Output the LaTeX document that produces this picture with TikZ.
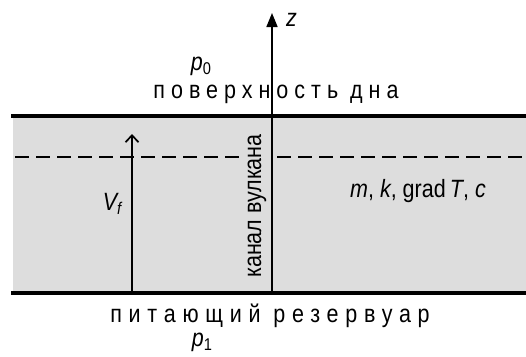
\documentclass[tikz,border=0pt]{standalone}
\usepackage{fontspec}
\setmainfont[FakeStretch=0.86]{Liberation Sans}
\usetikzlibrary{arrows.meta}
\definecolor{band}{RGB}{221,221,221}
\newcommand{\mysub}[1]{\raisebox{-0.3ex}{\fontsize{17}{17}\selectfont #1}}
\tikzset{
  lbl/.style={font=\fontsize{25}{28}\selectfont, inner sep=0pt},
  thickline/.style={line width=3.4pt},
  axisline/.style={line width=1.7pt},
  dashline/.style={line width=1.7pt, dash pattern=on 14pt off 7pt},
}
\begin{document}
\begin{tikzpicture}[x=1pt,y=-1pt]
\useasboundingbox (0,0) rectangle (526,356);
\fill[band] (13,116) rectangle (526,293);
\coordinate (tl) at (11,116);
\coordinate (tr) at (526,116);
\coordinate (bl) at (11,293);
\coordinate (br) at (526,293);
\draw[thickline] (tl) -- (tr);
\draw[thickline] (bl) -- (br);
\coordinate (d1) at (15,157);
\coordinate (d2) at (240,157);
\coordinate (d3) at (277,157);
\coordinate (d4) at (526,157);
\draw[dashline] (d1) -- (d2);
\draw[dashline] (d3) -- (d4);
\coordinate (zb) at (272,293);
\coordinate (zt) at (272,13);
\draw[axisline,-{Triangle[length=14pt,width=11pt]}] (zb) -- (zt);
\node[lbl, anchor=west] (z) at (286,20) {\itshape z};
\coordinate (vb) at (132,293);
\coordinate (vt) at (132,134);
\draw[axisline,-{Straight Barb[length=7pt,width=13pt,line width=1.7pt]}] (vb) -- (vt);
\node[lbl] (vf) at (112,204) {\itshape V\mysub{f}};
\node[lbl, rotate=90] (kanal) at (257,206) {канал вулкана};
\node[lbl, anchor=west] (params) at (350,191) {\itshape m\upshape, \itshape k\upshape, grad\,\itshape T\upshape, \itshape c};
\node[lbl] (p0) at (201,66) {\itshape p\upshape\mysub{0}};
\node[lbl] (surf) at (276,94) {\addfontfeatures{LetterSpace=24}поверхность дна};
\node[lbl] (res) at (270,316) {\addfontfeatures{LetterSpace=27}питающий резервуар};
\node[lbl] (p1) at (202,342) {\itshape p\upshape\mysub{1}};
\end{tikzpicture}
\end{document}
